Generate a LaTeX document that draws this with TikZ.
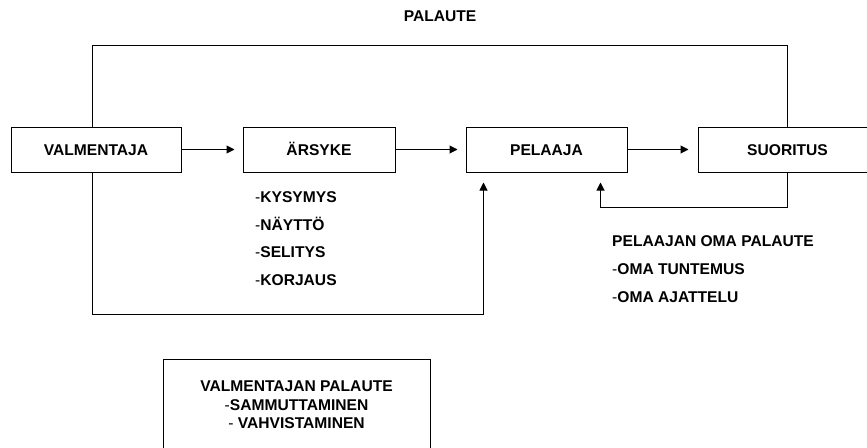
\documentclass[tikz,border=0pt]{standalone}
\usepackage{fontspec}
\setmainfont{Liberation Sans}
\usetikzlibrary{arrows.meta}

\begin{document}
\begin{tikzpicture}[x=1pt,y=-1pt]

    \tikzset{
      box/.style={
        draw,
        line width=1pt,
        rectangle,
        inner sep=0pt,
        minimum height=45pt,
        text height=11pt,
        text depth=0pt,
        font=\fontsize{15.6}{18.5}\selectfont\bfseries,
      },
      item/.style={
        anchor=west,
        inner sep=0pt,
        text height=11pt,
        text depth=0pt,
        font=\fontsize{15.6}{18.5}\selectfont,
      },
      line/.style={line width=1pt},
      arr/.style={line width=1pt, -{Triangle[length=8pt,width=8pt]}},
    }
    \useasboundingbox (0,0) rectangle (867,447);
    \clip (0,0) rectangle (867,447);

	\node[box, minimum width=170pt] (valm) at (96,149.5) {VALMENTAJA};
	\node[box, minimum width=152pt] (arsyke) at (319,149.5) {ÄRSYKE};
	\node[box, minimum width=161pt] (pelaaja) at (546.5,149.5) {PELAAJA};
	\node[box, minimum width=179pt] (suoritus) at (787.5,149.5) {SUORITUS};

	\node[item, anchor=center, font=\fontsize{15.6}{18.5}\selectfont\bfseries] (palaute) at (440,16) {PALAUTE};

	\foreach \w [count=\i] in {KYSYMYS,NÄYTTÖ,SELITYS,KORJAUS}
	  \node[item] (keino\i) at (255,{197+27.7*(\i-1)}) {-\textbf{\w}};

	\node[item] (oma) at (612,241) {\textbf{PELAAJAN OMA PALAUTE}};
	\node[item] (oma1) at (612,269) {-\textbf{OMA TUNTEMUS}};
	\node[item] (oma2) at (612,297) {-\textbf{OMA AJATTELU}};

	\node[draw, line width=1pt, inner sep=0pt, minimum width=267pt, minimum height=92pt,
	      align=center, font=\fontsize{15.6}{18.5}\selectfont] (vpalaute) at (296.5,405)
	  {\textbf{VALMENTAJAN PALAUTE}\\-\textbf{SAMMUTTAMINEN}\\- \textbf{VAHVISTAMINEN}};

	\draw[arr, shorten >=8pt] (valm) -- (arsyke);
	\draw[arr, shorten >=8pt] (arsyke) -- (pelaaja);
	\draw[arr, shorten >=9pt] (pelaaja) -- (suoritus);

	\draw[line] ([xshift=-4pt]valm.north) -- ++(0,-81) -| (suoritus.north);
	\draw[arr, shorten >=10pt] ([xshift=-4pt]valm.south) -- ++(0,142) -| ([xshift=18pt]pelaaja.south west);
	\draw[arr, shorten >=10pt] (suoritus.south) -- ++(0,35) -| ([xshift=-27pt]pelaaja.south east);

\end{tikzpicture}
\end{document}
